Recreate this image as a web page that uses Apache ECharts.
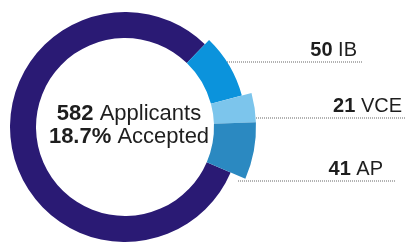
<!DOCTYPE html>
<html>
<head>
<meta charset="utf-8">
<script src="https://cdn.jsdelivr.net/npm/echarts@6/dist/echarts.min.js"></script>
<style>
html,body{margin:0;padding:0;background:#fff;}
#chart{width:405px;height:243px;}
</style>
</head>
<body>
<div id="chart"></div>
<script>
var names = ['IB', 'VCE', 'AP', 'Other'];
var counts = [50, 21, 41, 470];
var totalApplicants = 582;
var acceptedPct = '18.7%';
var colors = ['#0b93dc', '#7cc5ec', '#2b89c1', '#2a1a74'];

// where each label and its dotted line go
var labelPos = {
    IB:  {lineY: 62,  x0: 207, x1: 362, tx: 357},
    VCE: {lineY: 118, x0: 250, x1: 405, tx: 402},
    AP:  {lineY: 181, x0: 238, x1: 395, tx: 383}
};

var font = "'Liberation Sans', Arial, sans-serif";

function ring(visible, radius){
    var data = [];
    for (var i = 0; i < names.length; i++) {
        var show = visible.indexOf(names[i]) >= 0;
        var hasLabel = show && names[i] != 'Other';
        data.push({
            name: names[i],
            value: counts[i],
            itemStyle: {color: show ? colors[i] : 'rgba(0,0,0,0)'},
            label: {show: hasLabel},
            labelLine: {show: hasLabel}
        });
    }
    return {
        type: 'pie',
        silent: true,
        center: [125, 127],
        radius: radius,
        startAngle: 46,
        clockwise: true,
        avoidLabelOverlap: false,
        itemStyle: {borderWidth: 0},
        label: {
            formatter: function(p){ return '{b|' + p.value + '}{n| ' + p.name + '}'; },
            rich: {
                b: {fontWeight: 'bold', fontSize: 20, color: '#1e1e1e', fontFamily: font},
                n: {fontSize: 20, color: '#1e1e1e', fontFamily: font}
            }
        },
        labelLine: {
            lineStyle: {type: 'dotted', color: '#666', width: 1}
        },
        labelLayout: function(params){
            var p = labelPos[names[params.dataIndex]];
            if (!p) return {};
            return {
                x: p.tx,
                y: p.lineY - 12,
                align: 'right',
                verticalAlign: 'middle',
                labelLinePoints: [[p.x0, p.lineY], [p.x1, p.lineY], [p.x1, p.lineY]]
            };
        },
        data: data
    };
}

var chart = echarts.init(document.getElementById('chart'));
var option = {
    animation: false,
    graphic: [{
        type: 'text',
        x: 129,
        y: 125,
        style: {
            text: '{b|' + totalApplicants + '}{n| Applicants}\n{b|' + acceptedPct + '}{n| Accepted}',
            align: 'center',
            verticalAlign: 'middle',
            rich: {
                b: {fontWeight: 'bold', fontSize: 22, fontFamily: font, lineHeight: 23, fill: '#1e1e1e'},
                n: {fontSize: 22, fontFamily: font, lineHeight: 23, fill: '#1e1e1e'}
            }
        }
    }],
    series: [
        ring(['Other'], [89, 115]),
        ring(['IB'], [89, 121]),
        ring(['VCE', 'AP'], [89, 131])
    ]
};
chart.setOption(option);
</script>
</body>
</html>
